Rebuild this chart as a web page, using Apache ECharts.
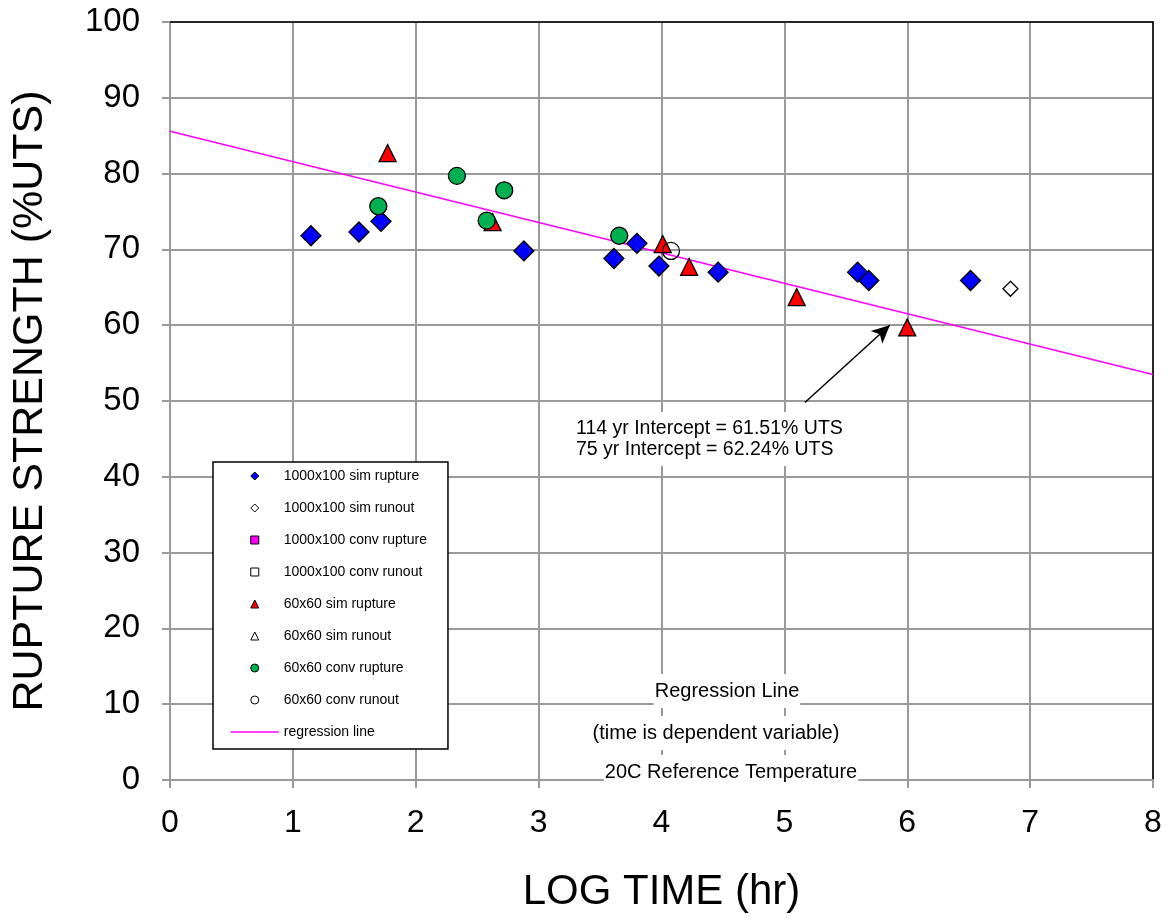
<!DOCTYPE html>
<html>
<head>
<meta charset="utf-8">
<script src="https://cdn.jsdelivr.net/npm/echarts@6/dist/echarts.min.js"></script>
<style>
html,body{margin:0;padding:0;background:#fff;}
#chart{width:1168px;height:920px;}
</style>
</head>
<body>
<div id="chart"></div>
<script>
// ---- data (log time [hr], rupture strength [%UTS]) ----
const simRupture1000 = [
  [1.147, 71.8], [1.538, 72.3], [1.717, 73.7], [2.88, 69.8], [3.613, 68.8],
  [3.80, 70.8], [3.979, 67.8], [4.461, 67.0], [5.596, 67.0], [5.687, 65.9], [6.515, 65.9]
];
const simRunout1000 = [[6.84, 64.8]];
const convRupture1000 = [];
const convRunout1000 = [];
const simRupture60 = [
  [1.771, 82.7], [2.625, 73.6], [4.01, 70.7], [4.225, 67.7], [5.10, 63.7], [6.00, 59.7]
];
const simRunout60 = [];
const convRupture60 = [[1.695, 75.7], [2.335, 79.7], [2.72, 77.8], [2.577, 73.8], [3.656, 71.8]];
const convRunout60 = [[4.077, 69.8]];
const regressionLine = [[0, 85.6], [8, 53.5]];
const arrowStart = [5.167, 49.8];
const arrowEnd = [5.858, 60.0];

const seriesNames = [
  '1000x100 sim rupture', '1000x100 sim runout', '1000x100 conv rupture', '1000x100 conv runout',
  '60x60 sim rupture', '60x60 sim runout', '60x60 conv rupture', '60x60 conv runout', 'regression line'
];
const interceptText = ['114 yr Intercept = 61.51% UTS', '75 yr Intercept = 62.24% UTS'];
const noteText = ['Regression Line', '(time is dependent variable)', '20C Reference Temperature'];

const FONT = '"Liberation Sans", Arial, sans-serif';
const GRID_GREY = '#9a9a9a';

const P_DIAMOND = 'path://M0,-1L1,0L0,1L-1,0Z';
const P_SQUARE = 'path://M-1,-1L1,-1L1,1L-1,1Z';
const P_TRI = 'path://M0,-1L1,1L-1,1Z';
const P_CIRCLE = 'path://M-1,0A1,1,0,1,1,1,0A1,1,0,1,1,-1,0Z';

function scatter(name, data, symbol, size, color) {
  return {
    name: name, type: 'scatter', data: data, symbol: symbol, symbolSize: size,
    itemStyle: { color: color, borderColor: '#000', borderWidth: 1.3, opacity: 1 },
    z: 3
  };
}

const chart = echarts.init(document.getElementById('chart'), null, { renderer: 'canvas' });

const option = {
  backgroundColor: '#fff',
  animation: false,
  textStyle: { fontFamily: FONT },
  grid: { left: 170, right: 15, top: 22, bottom: 140, containLabel: false },
  xAxis: [{
    type: 'value', min: 0, max: 8, interval: 1,
    name: 'LOG TIME (hr)', nameLocation: 'middle', nameGap: 91,
    nameTextStyle: { fontSize: 42, color: '#000', fontFamily: FONT },
    axisLine: { show: true, onZero: false, lineStyle: { color: GRID_GREY, width: 2 } },
    axisTick: { show: true, length: 8, lineStyle: { color: GRID_GREY, width: 2 } },
    axisLabel: { fontSize: 32, color: '#000', margin: 27, fontFamily: FONT },
    splitLine: { show: true, lineStyle: { color: GRID_GREY, width: 2 } }
  }, {
    type: 'value', min: 0, max: 8, interval: 1, position: 'top',
    axisLine: { show: true, onZero: false, lineStyle: { color: '#000', width: 1.5 } },
    axisTick: { show: false }, axisLabel: { show: false }, splitLine: { show: false }
  }],
  yAxis: [{
    type: 'value', min: 0, max: 100, interval: 10,
    name: 'RUPTURE STRENGTH (%UTS)', nameLocation: 'middle', nameGap: 118, nameRotate: 90,
    nameTextStyle: { fontSize: 43, color: '#000', fontFamily: FONT },
    axisLine: { show: true, onZero: false, lineStyle: { color: GRID_GREY, width: 2 } },
    axisTick: { show: true, length: 8, lineStyle: { color: GRID_GREY, width: 2 } },
    axisLabel: { fontSize: 33, color: '#000', margin: 30, fontFamily: FONT },
    splitLine: { show: true, lineStyle: { color: GRID_GREY, width: 2 } }
  }, {
    type: 'value', min: 0, max: 100, interval: 10, position: 'right',
    axisLine: { show: true, onZero: false, lineStyle: { color: '#000', width: 1.5 } },
    axisTick: { show: false }, axisLabel: { show: false }, splitLine: { show: false }
  }],
  legend: {
    orient: 'vertical', left: 213, top: 462,
    padding: [6, 21, 9, 17],
    backgroundColor: '#fff', borderColor: '#000', borderWidth: 1.5,
    itemWidth: 48, itemHeight: 8, itemGap: 16,
    symbolKeepAspect: true,
    itemStyle: { borderWidth: 1 },
    lineStyle: { width: 1.5 },
    textStyle: { fontSize: 14, color: '#000', fontFamily: FONT, lineHeight: 16 },
    selectedMode: false,
    z: 20,
    data: [
      { name: seriesNames[0], icon: P_DIAMOND },
      { name: seriesNames[1], icon: P_DIAMOND },
      { name: seriesNames[2], icon: P_SQUARE },
      { name: seriesNames[3], icon: P_SQUARE },
      { name: seriesNames[4], icon: P_TRI },
      { name: seriesNames[5], icon: P_TRI },
      { name: seriesNames[6], icon: P_CIRCLE },
      { name: seriesNames[7], icon: P_CIRCLE },
      { name: seriesNames[8], itemStyle: { opacity: 0 } }
    ]
  },
  series: [
    {
      name: seriesNames[8], type: 'line', data: regressionLine, symbol: 'none',
      lineStyle: { color: '#ff00ff', width: 1.5 }, itemStyle: { color: '#ff00ff' }, z: 2,
      markLine: {
        silent: true, symbol: ['none', 'arrow'], symbolSize: [13, 18],
        label: { show: false },
        lineStyle: { color: '#000', width: 1.5, type: 'solid' },
        emphasis: { disabled: true },
        data: [[{ coord: arrowStart }, { coord: arrowEnd }]]
      }
    },
    scatter(seriesNames[0], simRupture1000, 'diamond', 20, '#0000ff'),
    scatter(seriesNames[1], simRunout1000, 'diamond', 15, '#ffffff'),
    scatter(seriesNames[2], convRupture1000, 'rect', 12, '#ff00ff'),
    scatter(seriesNames[3], convRunout1000, 'rect', 12, '#ffffff'),
    scatter(seriesNames[4], simRupture60, 'triangle', 17, '#ff0000'),
    scatter(seriesNames[5], simRunout60, 'triangle', 17, '#ffffff'),
    scatter(seriesNames[6], convRupture60, 'circle', 17, '#00b050'),
    scatter(seriesNames[7], convRunout60, 'circle', 17, 'rgba(255,255,255,0)')
  ],
  graphic: [
    {
      type: 'text', x: 572, y: 412, z: 30,
      style: {
        text: interceptText.join('\n'), font: '19.5px ' + FONT, fill: '#000',
        lineHeight: 21, backgroundColor: '#fff', padding: [6, 4]
      }
    },
    {
      type: 'text', x: 727, y: 691, z: 30,
      style: { text: noteText[0], font: '20px ' + FONT, fill: '#000', align: 'center', verticalAlign: 'middle',
        backgroundColor: '#fff', padding: [7, 1] }
    },
    {
      type: 'text', x: 716, y: 733, z: 30,
      style: { text: noteText[1], font: '20px ' + FONT, fill: '#000', align: 'center', verticalAlign: 'middle',
        backgroundColor: '#fff', padding: [7, 1] }
    },
    {
      type: 'text', x: 731, y: 772, z: 30,
      style: { text: noteText[2], font: '20px ' + FONT, fill: '#000', align: 'center', verticalAlign: 'middle',
        backgroundColor: '#fff', padding: [7, 1] }
    }
  ]
};

chart.setOption(option);
</script>
</body>
</html>
